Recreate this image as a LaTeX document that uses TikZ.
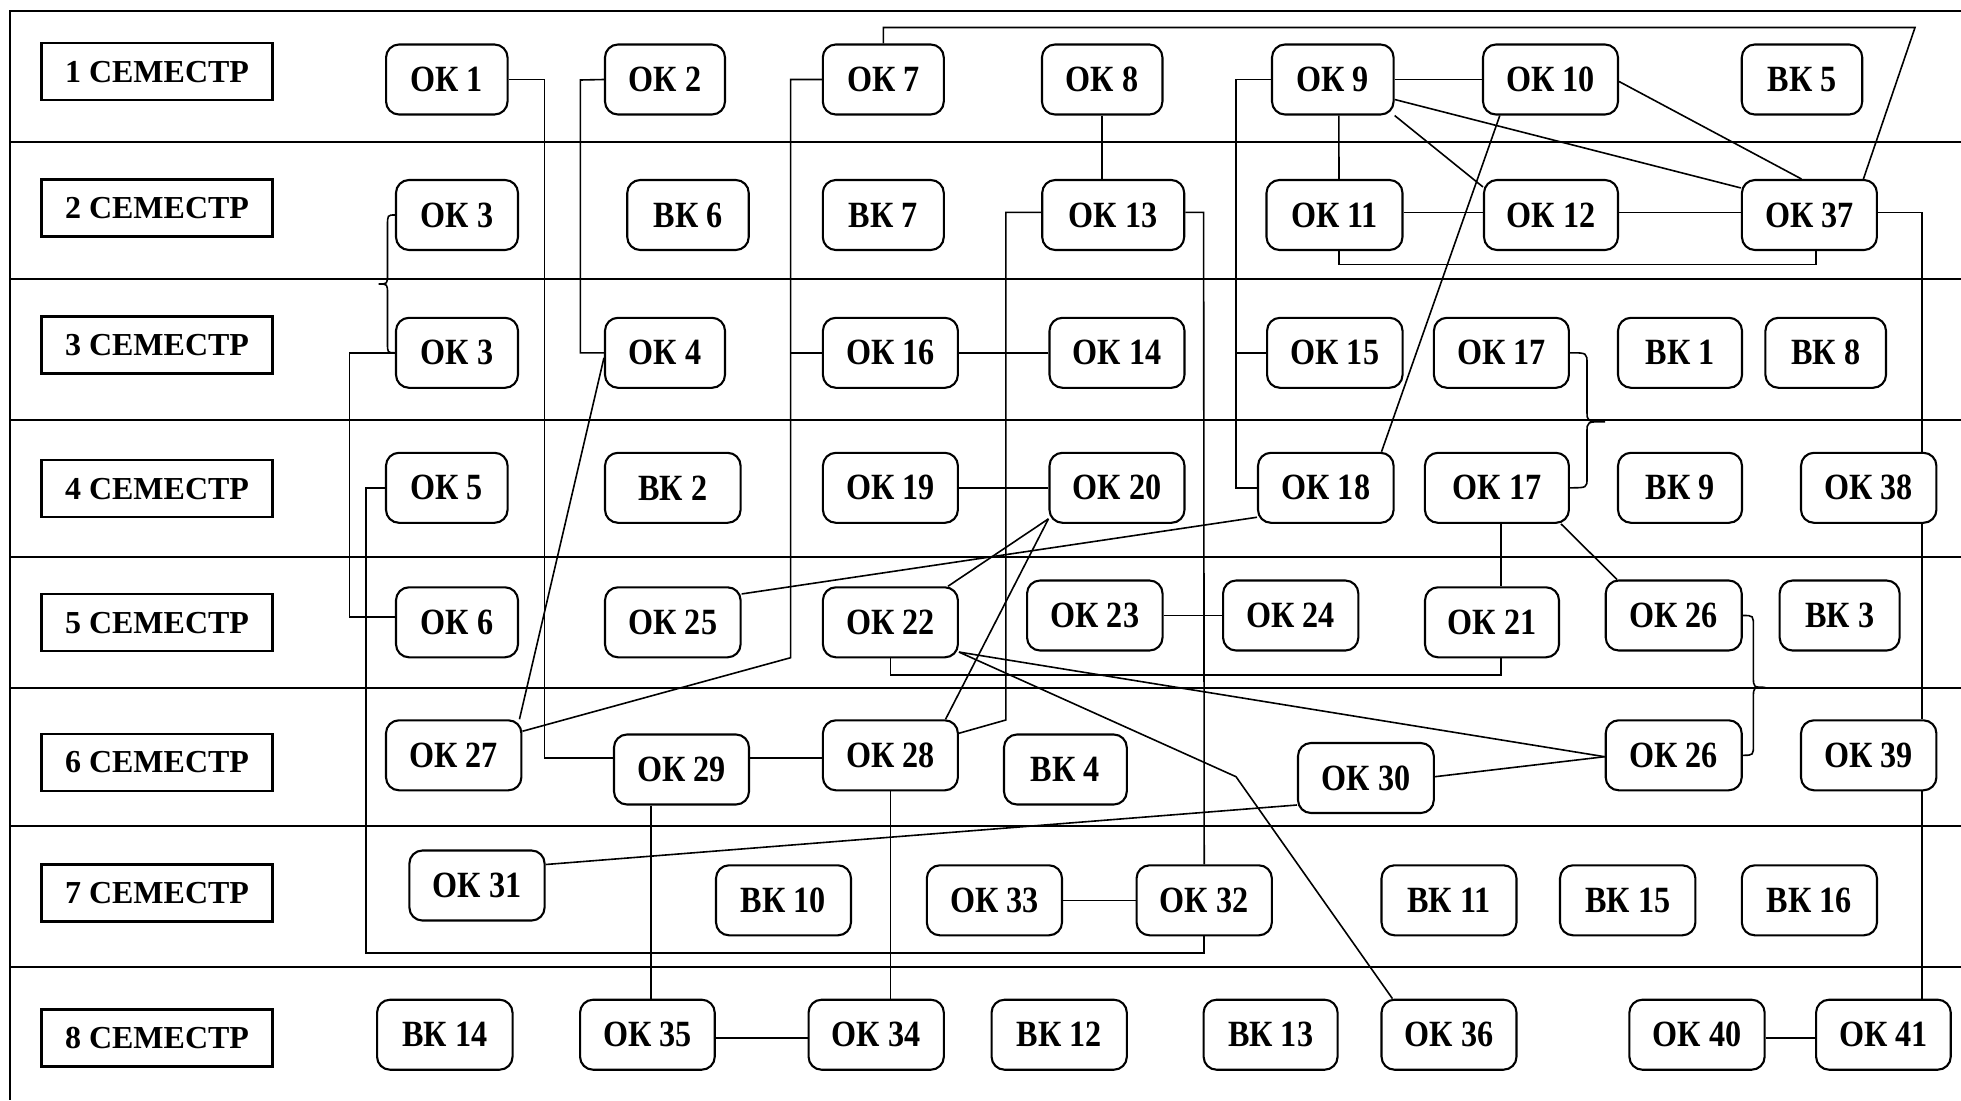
\documentclass[tikz,border=0pt]{standalone}
\usepackage{fontspec}
\setmainfont{Liberation Serif}
\newfontfamily\labfont{Liberation Serif}[FakeStretch=0.87]
\newfontfamily\semfont{Liberation Serif}
\begin{document}
\begin{tikzpicture}[x=1pt,y=-1pt,
  cbox/.style={draw, line width=2.1pt, rounded corners=13pt, fill=white, minimum height=70pt, inner sep=0pt, font=\labfont\bfseries\fontsize{37}{40}\selectfont},
  sbox/.style={draw, line width=2.1pt, fill=white, minimum width=231pt, minimum height=57pt, inner sep=0pt, font=\semfont\bfseries\fontsize{32}{36}\selectfont},
  conn/.style={line width=1.6pt, line join=miter},
  framel/.style={line width=2pt}]
\useasboundingbox (0,0) rectangle (1961,1100);
% frame
\draw[framel] (1961,10.7) -- (10,10.7) -- (10,1100);
\foreach \yy in {141.7,279.3,420,557.3,688.3,826,966.7}
  \draw[framel] (10,\yy) -- (1961,\yy);
% semester labels
\node[sbox] (s1) at (157,71.7) {1 СЕМЕСТР};
\node[sbox] (s2) at (157,208) {2 СЕМЕСТР};
\node[sbox] (s3) at (157,345) {3 СЕМЕСТР};
\node[sbox] (s4) at (157,488.7) {4 СЕМЕСТР};
\node[sbox] (s5) at (157,622.8) {5 СЕМЕСТР};
\node[sbox] (s6) at (157,762.3) {6 СЕМЕСТР};
\node[sbox] (s7) at (157,893) {7 СЕМЕСТР};
\node[sbox] (s8) at (157,1038) {8 СЕМЕСТР};
% row 1
\node[cbox, minimum width=121.5pt] (ok1) at (446.8,79.5) {ОК 1};
\node[cbox, minimum width=120pt] (ok2) at (665,79.5) {ОК 2};
\node[cbox, minimum width=121pt] (ok7) at (883.3,79.5) {ОК 7};
\node[cbox, minimum width=120.5pt] (ok8) at (1102.2,79.5) {ОК 8};
\node[cbox, minimum width=121.6pt] (ok9) at (1332.8,79.5) {ОК 9};
\node[cbox, minimum width=135pt] (ok10) at (1550.5,79.5) {ОК 10};
\node[cbox, minimum width=120.5pt] (vk5) at (1802,79.5) {ВК 5};
% row 2
\node[cbox, minimum width=122pt] (ok3a) at (457,215) {ОК 3};
\node[cbox, minimum width=121.5pt] (vk6) at (688,215) {ВК 6};
\node[cbox, minimum width=121pt] (vk7) at (883.3,215) {ВК 7};
\node[cbox, minimum width=142pt] (ok13) at (1113.2,215) {ОК 13};
\node[cbox, minimum width=136pt] (ok11) at (1334.5,215) {ОК 11};
\node[cbox, minimum width=134pt] (ok12) at (1551,215) {ОК 12};
\node[cbox, minimum width=135pt] (ok37) at (1809.4,215) {ОК 37};
% row 3
\node[cbox, minimum width=122pt] (ok3b) at (457,352.8) {ОК 3};
\node[cbox, minimum width=120pt] (ok4) at (665,352.8) {ОК 4};
\node[cbox, minimum width=135pt] (ok16) at (890.4,352.8) {ОК 16};
\node[cbox, minimum width=135pt] (ok14) at (1117,352.8) {ОК 14};
\node[cbox, minimum width=135.5pt] (ok15) at (1334.8,352.8) {ОК 15};
\node[cbox, minimum width=135pt] (ok17a) at (1501.4,352.8) {ОК 17};
\node[cbox, minimum width=124pt] (vk1) at (1680,352.8) {ВК 1};
\node[cbox, minimum width=120.6pt] (vk8) at (1825.7,352.8) {ВК 8};
% row 4
\node[cbox, minimum width=121.6pt] (ok5) at (446.8,487.8) {ОК 5};
\node[cbox, minimum width=135.6pt] (vk2) at (672.8,487.8) {ВК 2};
\node[cbox, minimum width=135pt] (ok19) at (890.4,487.8) {ОК 19};
\node[cbox, minimum width=135pt] (ok20) at (1117,487.8) {ОК 20};
\node[cbox, minimum width=135.6pt] (ok18) at (1325.8,487.8) {ОК 18};
\node[cbox, minimum width=144pt] (ok17b) at (1496.9,487.8) {ОК 17};
\node[cbox, minimum width=124pt] (vk9) at (1680,487.8) {ВК 9};
\node[cbox, minimum width=135.4pt] (ok38) at (1868.7,487.8) {ОК 38};
% row 5
\node[cbox, minimum width=122pt] (ok6) at (457,622.3) {ОК 6};
\node[cbox, minimum width=135.6pt] (ok25) at (672.8,622.3) {ОК 25};
\node[cbox, minimum width=135pt] (ok22) at (890.4,622.3) {ОК 22};
\node[cbox, minimum width=135.5pt] (ok23) at (1094.8,615.5) {ОК 23};
\node[cbox, minimum width=135.3pt] (ok24) at (1290.7,615.5) {ОК 24};
\node[cbox, minimum width=134pt] (ok21) at (1492,622.3) {ОК 21};
\node[cbox, minimum width=136pt] (ok26a) at (1673.7,615.5) {ОК 26};
\node[cbox, minimum width=120pt] (vk3) at (1839.6,615.5) {ВК 3};
% row 6
\node[cbox, minimum width=135.4pt] (ok27) at (453.7,755.3) {ОК 27};
\node[cbox, minimum width=135pt] (ok29) at (681.5,769.5) {ОК 29};
\node[cbox, minimum width=135pt] (ok28) at (890.4,755.3) {ОК 28};
\node[cbox, minimum width=122.8pt] (vk4) at (1065.4,769.5) {ВК 4};
\node[cbox, minimum width=135.8pt] (ok30) at (1365.9,778) {ОК 30};
\node[cbox, minimum width=136pt] (ok26b) at (1673.7,755.3) {ОК 26};
\node[cbox, minimum width=135.4pt] (ok39) at (1868.7,755.3) {ОК 39};
% row 7
\node[cbox, minimum width=135.2pt] (ok31) at (477,885.5) {ОК 31};
\node[cbox, minimum width=135pt] (vk10) at (783.5,900.3) {ВК 10};
\node[cbox, minimum width=135.2pt] (ok33) at (994.4,900.3) {ОК 33};
\node[cbox, minimum width=135.3pt] (ok32) at (1204.2,900.3) {ОК 32};
\node[cbox, minimum width=135pt] (vk11) at (1449,900.3) {ВК 11};
\node[cbox, minimum width=135.4pt] (vk15) at (1627.7,900.3) {ВК 15};
\node[cbox, minimum width=135.2pt] (vk16) at (1809.4,900.3) {ВК 16};
% row 8
\node[cbox, minimum width=135.5pt] (vk14) at (444.8,1034.7) {ВК 14};
\node[cbox, minimum width=134.7pt] (ok35) at (647.4,1034.7) {ОК 35};
\node[cbox, minimum width=135.3pt] (ok34) at (876.2,1034.7) {ОК 34};
\node[cbox, minimum width=135.3pt] (vk12) at (1059.2,1034.7) {ВК 12};
\node[cbox, minimum width=134pt] (vk13) at (1270.6,1034.7) {ВК 13};
\node[cbox, minimum width=135pt] (ok36) at (1449,1034.7) {ОК 36};
\node[cbox, minimum width=135.3pt] (ok40) at (1697,1034.7) {ОК 40};
\node[cbox, minimum width=134.7pt] (ok41) at (1883.4,1034.7) {ОК 41};
% junction coordinates
\coordinate (j7) at (790.6,352.8);
\coordinate (j9) at (1236,352.8);
% connectors
\draw[conn] (ok1.east) -- (544.6,79.5) -- (544.6,758) -- ([yshift=11.5pt]ok29.west);
\draw[conn] (ok2.west) -- (580.4,80) -- (580.4,352.8) -- (ok4.west);
\draw[conn] (ok7.north) -- (883.3,27.5) -- (1915,27.5) -- ([xshift=54pt]ok37.north);
\draw[conn] (ok7.west) -- (790.6,79.5) -- (790.6,657.7) -- ([yshift=-12pt]ok27.north east);
\draw[conn] (j7) -- (ok16.west);
\draw[conn] ([yshift=-5pt]ok4.west) -- ([xshift=-3pt]ok27.north east);
\draw[conn] (ok8.south) -- (ok8.south |- ok13.north);
\draw[conn] ([yshift=2.7pt]ok13.west) -- (1005.8,212.3) -- (1005.8,720) -- ([yshift=-14pt]ok28.north east);
\draw[conn] ([yshift=2.7pt]ok13.east) -- (1203.6,212.3) -- (ok32.north);
\draw[conn] (ok32.south) -- (1204.2,952.7) -- (366,952.7) -- (366,487.8) -- (ok5.west);
\draw[conn] (ok3b.west) -- (349.6,352.8) -- (349.6,616.7) -- ([yshift=5.6pt]ok6.west);
% braces
\draw[conn] (ok3a.west) .. controls (387.5,215) .. (387.5,226) -- (387.5,274) .. controls (387.5,284) .. (378.6,284) .. controls (387.5,284) .. (387.5,294) -- (387.5,343) .. controls (387.5,352.8) .. (ok3b.west);
\draw[conn] (ok17a.east) .. controls (1587,352.8) .. (1587,364) -- (1587,411) .. controls (1587,421.7) .. (1605,421.7) .. controls (1587,421.7) .. (1587,432) -- (1587,478) .. controls (1587,487.8) .. (ok17b.east);
\draw[conn] (ok26a.east) .. controls (1753.4,615.5) .. (1753.4,627) -- (1753.4,677) .. controls (1753.4,687.3) .. (1765.4,687.3) .. controls (1753.4,687.3) .. (1753.4,697) -- (1753.4,744) .. controls (1753.4,755.3) .. (ok26b.east);
% top-right cluster
\draw[conn] (ok9.east) -- (ok10.west);
\draw[conn] ([xshift=6pt]ok9.south) -- ([xshift=4.5pt]ok11.north);
\draw[conn] (ok9.south east) -- ([yshift=-8pt]ok12.north west);
\draw[conn] ([yshift=-20pt]ok9.east) -- ([yshift=-9pt]ok37.north west);
\draw[conn] (ok9.west) -- (1236,79.5) -- (1236,487.8) -- (ok18.west);
\draw[conn] (j9) -- (ok15.west);
\draw[conn] ([yshift=-2pt]ok10.east) -- ([xshift=-8pt]ok37.north);
\draw[conn] ([xshift=-50.7pt]ok10.south) -- ([xshift=55.7pt]ok18.north);
\draw[conn] ([yshift=2.7pt]ok11.east) -- ([yshift=2.7pt]ok12.west);
\draw[conn] ([yshift=2.7pt]ok12.east) -- ([yshift=2.7pt]ok37.west);
\draw[conn] ([xshift=4.5pt]ok11.south) -- (1339,264.3) -- (1816,264.3) -- ([xshift=6.6pt]ok37.south);
\draw[conn] ([yshift=2.7pt]ok37.east) -- (1921.7,212.3) -- ([xshift=53pt]ok38.north);
\draw[conn] ([xshift=53pt]ok38.south) -- ([xshift=53pt]ok39.north);
\draw[conn] ([xshift=53pt]ok39.south) -- ([xshift=38.3pt]ok41.north);
% middle
\draw[conn] (ok16.east) -- (ok14.west);
\draw[conn] (ok19.east) -- (ok20.west);
\draw[conn] ([yshift=6.6pt]ok18.south west) -- ([yshift=-7.7pt]ok25.north east);
\draw[conn] ([yshift=5pt]ok20.south west) -- ([xshift=-11pt]ok22.north east);
\draw[conn] ([yshift=5pt]ok20.south west) -- ([xshift=-13.4pt]ok28.north east);
\draw[conn] (ok23.east) -- (ok24.west);
\draw[conn] (ok22.south) -- (890.4,675) -- (1500.7,675) -- ([xshift=8.7pt]ok21.south);
\draw[conn] ([xshift=3.8pt]ok17b.south) -- ([xshift=8.7pt]ok21.north);
\draw[conn] ([xshift=-9pt]ok17b.south east) -- ([xshift=12.4pt]ok26a.north west);
\draw[conn] ([yshift=6.3pt]ok22.south east) -- ([yshift=-1.4pt]ok26b.west);
\draw[conn] ([yshift=6.3pt]ok22.south east) -- (1236,776.7) -- ([xshift=12pt]ok36.north west);
\draw[conn] ([yshift=1.3pt]ok30.east) -- ([yshift=-1.4pt]ok26b.west);
\draw[conn] ([yshift=-27pt]ok30.west) -- ([yshift=21pt]ok31.east);
\draw[conn] ([yshift=11.8pt]ok29.east) -- ([yshift=-2.4pt]ok28.west);
\draw[conn] ([xshift=-30.6pt]ok29.south) -- ([xshift=3.5pt]ok35.north);
\draw[conn] (ok28.south) -- ([xshift=14.2pt]ok34.north);
\draw[conn] (ok33.east) -- (ok32.west);
\draw[conn] ([yshift=-3pt]ok35.east) -- ([yshift=-3pt]ok34.west);
\draw[conn] ([yshift=-3pt]ok40.east) -- ([yshift=-3pt]ok41.west);
\end{tikzpicture}
\end{document}
